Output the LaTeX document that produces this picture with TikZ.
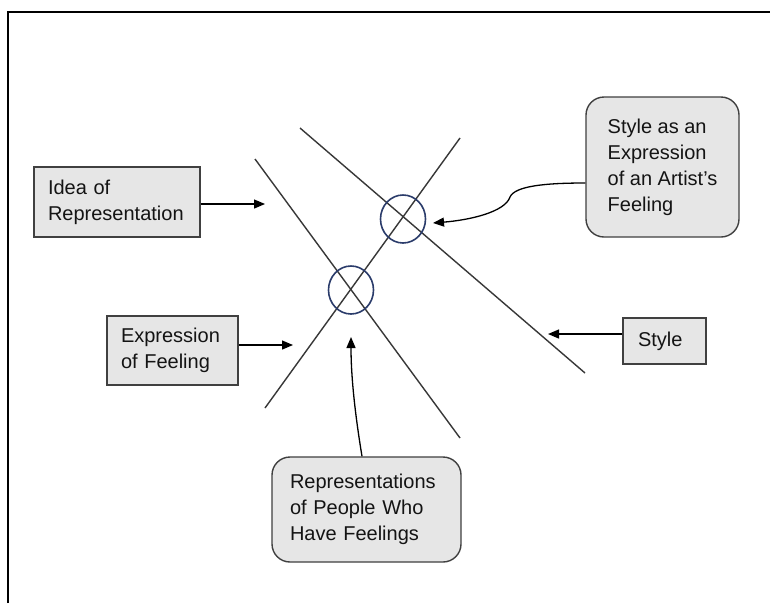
\documentclass[tikz,border=0pt]{standalone}
\usepackage{fontspec}
\setmainfont{Liberation Sans}
\usetikzlibrary{arrows.meta,shapes.geometric}
\definecolor{boxgray}{HTML}{E6E6E6}
\definecolor{bordergray}{HTML}{404040}
\definecolor{linegray}{HTML}{383838}
\definecolor{ringblue}{HTML}{2B3C6B}
\definecolor{textdark}{HTML}{141414}
\begin{document}
\begin{tikzpicture}[x=1pt,y=-1pt,
  font=\fontsize{20}{26}\selectfont,
  box/.style={draw=bordergray,fill=boxgray,line width=1.4pt,align=left,inner ysep=0pt,text=textdark},
  rbox/.style={box,rounded corners=18pt},
  ring/.style={draw=ringblue,line width=1.6pt,ellipse,inner sep=0pt,minimum width=45pt,minimum height=48pt},
  stroke/.style={draw=linegray,line width=1.4pt},
  arr/.style={draw=black,line width=1.3pt,-{Triangle[length=11pt,width=9pt]}}]
\useasboundingbox (0,0) rectangle (770,603);
\fill[white] (0,0) rectangle (770,603);
% frame
\draw[line width=2pt] (7.5,603) -- (7.5,11.5) -- (770,11.5);
% crossing lines
\coordinate (a1) at (300,128); \coordinate (a2) at (585,373);
\coordinate (b1) at (255,159); \coordinate (b2) at (460,438);
\coordinate (c1s) at (265,408); \coordinate (c1e) at (460,138);
\draw[stroke] (a1) -- (a2);
\draw[stroke] (b1) -- (b2);
\draw[stroke] (c1s) -- (c1e);
% rings
\node[ring] (r1) at (403,219) {};
\node[ring] (r2) at (351,290) {};
% boxes
\node[box, text width=138pt, inner xsep=14pt, minimum height=70pt] (idea) at (117,202) {Idea of\\Representation};
\node[box, text width=103pt, inner xsep=14pt, minimum height=69pt] (expr) at (172.5,350.5) {Expression\\of Feeling};
\node[rbox, inner xsep=0pt, minimum width=153pt, minimum height=140pt] (sa) at (662.5,167) {Style as an\\Expression\\of an Artist’s\\Feeling};
\node[box, text width=53pt, inner xsep=15pt, minimum height=46pt] (style) at (664.5,341) {Style};
\node[rbox, text width=153pt, inner xsep=18pt, minimum height=105pt] (rep) at (366.5,509.5) {Representations\\of People Who\\Have Feelings};
% arrows
\coordinate (t1) at (265,204);
\coordinate (t2) at (293,345);
\coordinate (t3) at (548,334);
\coordinate (t4) at (433,223);
\coordinate (t5) at (351,337);
\draw[arr] (idea.east |- t1) -- (t1);
\draw[arr] (expr.east |- t2) -- (t2);
\draw[arr] (style.west |- t3) -- (t3);
\draw[arr] ([yshift=-16pt]sa.west) .. controls (545,183) and (515,186) .. (510,197) .. controls (505,212) and (470,220) .. (t4);
\draw[arr] ([xshift=-4.5pt]rep.north) .. controls (356,420) and (351,380) .. (t5);
\end{tikzpicture}
\end{document}
